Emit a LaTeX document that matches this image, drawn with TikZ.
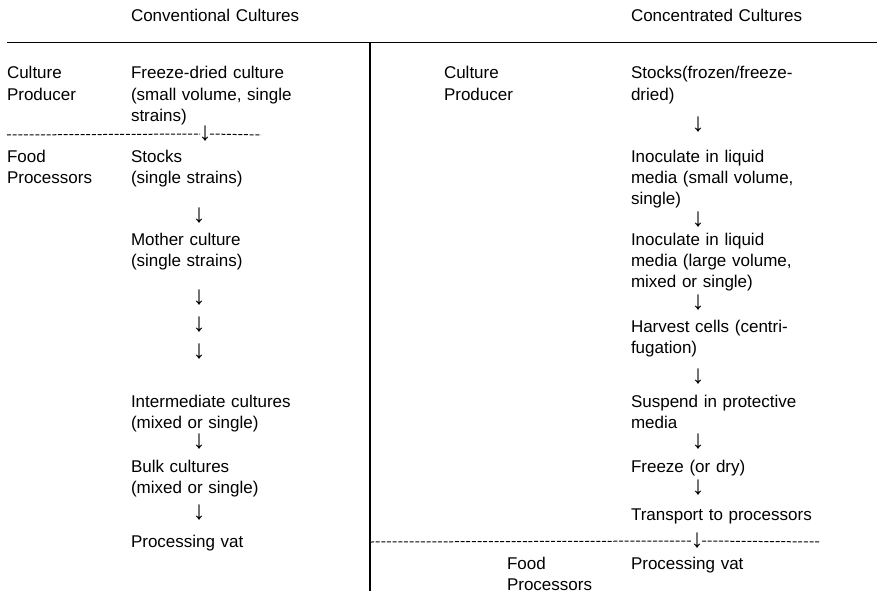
\documentclass[tikz,border=0pt]{standalone}
\usepackage{fontspec}
\setmainfont{Liberation Sans}
\begin{document}
\begin{tikzpicture}[x=1pt,y=-1pt,
  txt/.style={anchor=base west,inner sep=0pt,outer sep=0pt,text width=230pt,align=left,
    font=\fontsize{17}{21.3}\selectfont},
  dn/.style={inner sep=0pt,outer sep=0pt,font=\fontsize{26}{27}\selectfont},
  rule/.style={line width=1pt},
  dashrule/.style={line width=1pt,dash pattern=on 4pt off 1.66pt}]
\useasboundingbox (0,0) rectangle (877,591);
% headers
\node[txt] (h1) at (131,22) {Conventional Cultures};
\node[txt] (h2) at (631,22) {Concentrated Cultures};
% rules
\coordinate (tl) at (7,43);
\coordinate (tr) at (877,43);
\coordinate (vt) at (370,43);
\coordinate (vb) at (370,591);
\draw[rule] (tl) -- (tr);
\draw[line width=1.5pt] (vt) -- (vb);
% left column
\node[txt] (lcp) at (7,79) {Culture\\Producer};
\node[txt] (l1) at (131,79) {Freeze-dried culture\\(small volume, single\\strains)};
\node[txt] (lfp) at (7,162) {Food\\Processors};
\node[txt] (l2) at (131,162) {Stocks\\(single strains)};
\node[txt] (l3) at (131,245) {Mother culture\\(single strains)};
\node[txt] (l4) at (131,407) {Intermediate cultures\\(mixed or single)};
\node[txt] (l5) at (131,472) {Bulk cultures\\(mixed or single)};
\node[txt] (l6) at (131,547) {Processing vat};
% left dashed rule with arrow
\node[dn] (la0) at (205,134) {↓};
\coordinate (ld1) at (7,135);
\coordinate (ld2) at (261,135);
\draw[dashrule] (ld1) -- ([xshift=1.5pt]la0.west);
\draw[dashrule] ([xshift=-1.5pt]la0.east) -- (ld2);
% left arrows
\node[dn] (la1) at (199,216) {↓};
\node[dn] (la2) at (199,298) {↓};
\node[dn] (la3) at (199,325) {↓};
\node[dn] (la4) at (199,352) {↓};
\node[dn] (la5) at (199,442) {↓};
\node[dn] (la6) at (199,513) {↓};
% right column
\node[txt] (rcp) at (444,79) {Culture\\Producer};
\node[txt] (r1) at (631,79) {Stocks(frozen/freeze-\\dried)};
\node[txt] (r2) at (631,162) {Inoculate in liquid\\media (small volume,\\single)};
\node[txt] (r3) at (631,245) {Inoculate in liquid\\media (large volume,\\mixed or single)};
\node[txt] (r4) at (631,332) {Harvest cells (centri-\\fugation)};
\node[txt] (r5) at (631,407) {Suspend in protective\\media};
\node[txt] (r6) at (631,472) {Freeze (or dry)};
\node[txt] (r7) at (631,520) {Transport to processors};
\node[txt] (rfp) at (507,569) {Food\\Processors};
\node[txt] (r8) at (631,569) {Processing vat};
% right arrows
\node[dn] (ra1) at (698,125) {↓};
\node[dn] (ra2) at (698,220) {↓};
\node[dn] (ra3) at (698,303) {↓};
\node[dn] (ra4) at (698,377) {↓};
\node[dn] (ra5) at (698,442) {↓};
\node[dn] (ra6) at (698,488) {↓};
% right dashed rule with arrow
\node[dn] (ra0) at (697,541) {↓};
\coordinate (rd1) at (370,542);
\coordinate (rd2) at (820,542);
\draw[dashrule] (rd1) -- ([xshift=1.5pt]ra0.west);
\draw[dashrule] ([xshift=-1.5pt]ra0.east) -- (rd2);
\end{tikzpicture}
\end{document}
